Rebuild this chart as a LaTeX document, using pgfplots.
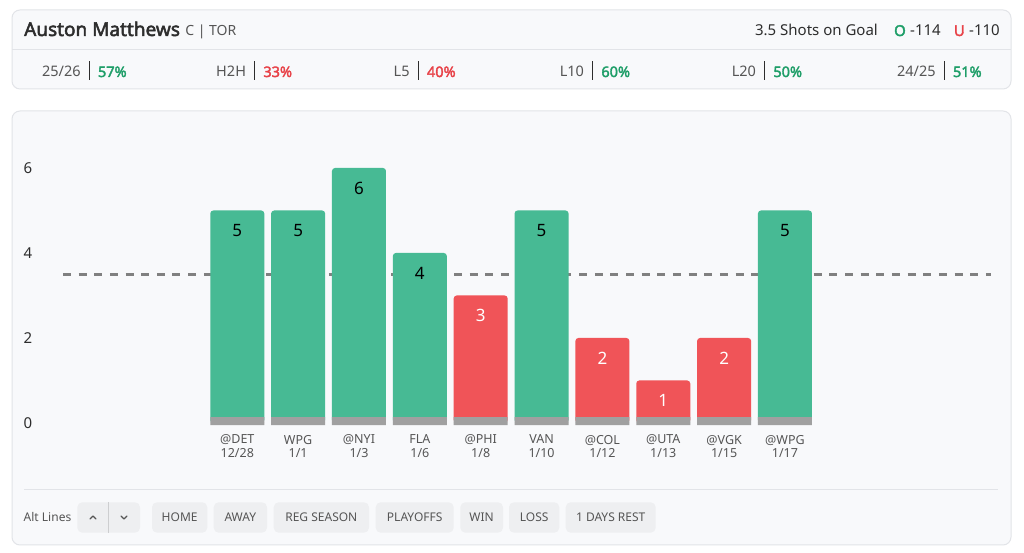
\documentclass[border=0pt]{standalone}
\usepackage{pgfplots}
\pgfplotsset{compat=1.18}
\usepackage{pgfplotstable}
\usepackage{fontspec}
\setmainfont{Noto Sans}[BoldFont={Noto Sans}, BoldFeatures={FakeBold=2.5}]

\definecolor{cardfill}{RGB}{248,249,251}
\definecolor{cardline}{RGB}{226,228,232}
\definecolor{bargreen}{RGB}{71,186,148}
\definecolor{barred}{RGB}{240,84,88}
\definecolor{basegray}{RGB}{160,160,160}
\definecolor{dashgray}{RGB}{128,128,128}
\definecolor{txtdark}{RGB}{45,45,45}
\definecolor{txtgray}{RGB}{85,85,85}
\definecolor{pctgreen}{RGB}{30,158,104}
\definecolor{pctred}{RGB}{232,66,72}
\definecolor{btnfill}{RGB}{238,239,241}
\definecolor{btnsep}{RGB}{205,206,208}
\newcommand{\fs}[1]{\fontsize{#1bp}{1.12\dimexpr#1bp\relax}\selectfont}

% shots on goal per game (over 3.5 = green, under = red)
\pgfplotstableread{
x y
0 5
1 5
2 6
3 4
5 5
9 5
}\overs
\pgfplotstableread{
x y
4 3
6 2
7 1
8 2
}\unders

\begin{document}
\begin{tikzpicture}
\begin{scope}[x=1bp,y=1bp]
\useasboundingbox[fill=white] (0,0) rectangle (1024,553);

% header card
\draw[cardline, fill=cardfill, rounded corners=8bp, line width=1bp] (12,464) rectangle (1011,543);
\draw[cardline, line width=1bp] (12,503) -- (1011,503);
\node[anchor=base west, inner sep=0, txtdark] (nm) at (24,517) {\fs{19}\bfseries Auston Matthews};
\node[anchor=base west, inner sep=0, txtgray] at ([xshift=5bp]nm.base east) {\fs{14}C | TOR};
\node[anchor=base east, inner sep=0, txtdark] at (878,517) {\fs{15}3.5 Shots on Goal};
\node[anchor=base east, inner sep=0, pctgreen] at (906,517) {\fs{15}\bfseries O};
\node[anchor=base west, inner sep=0, txtdark] at (910,517) {\fs{15}-114};
\node[anchor=base east, inner sep=0, pctred] at (965,517) {\fs{15}\bfseries U};
\node[anchor=base west, inner sep=0, txtdark] at (969,517) {\fs{15}-110};

\foreach \lab/\sx/\pc/\col in {{25/26}/89.3/57/pctgreen, H2H/254.7/33/pctred,
    L5/418.3/40/pctred, L10/592.7/60/pctgreen, L20/764.7/50/pctgreen,
    {24/25}/944.3/51/pctgreen}{
  \node[anchor=base east, inner sep=0, txtgray] at (\sx-8.5,476) {\fs{14.5}\lab};
  \draw[txtdark, line width=1.4bp] (\sx,473) -- (\sx,492);
  \node[anchor=base west, inner sep=0, \col] at (\sx+8.5,476) {\fs{14.5}\bfseries\pc\%};
}

% chart card
\draw[cardline, fill=cardfill, rounded corners=8bp, line width=1bp] (12,8) rectangle (1011,442);
\draw[cardline, line width=1bp] (24,63) -- (998,63);

% footer controls
\node[inner sep=0, txtgray] at (47.5,35.5) {\fs{12}Alt Lines};
\fill[btnfill, rounded corners=5bp] (77.3,20.3) rectangle (140,50.7);
\draw[btnsep, line width=1bp] (108.7,20.3) -- (108.7,50.7);
\draw[txtgray, line width=1.3bp, line cap=round, line join=round] (90,34) -- (93,37) -- (96,34);
\draw[txtgray, line width=1.3bp, line cap=round, line join=round] (121,37) -- (124,34) -- (127,37);
\foreach \a/\b/\t in {152/207.3/HOME, 213.7/267/AWAY, 273.7/369/REG SEASON,
    375.7/453.7/PLAYOFFS, 460.3/503/WIN, 509/559.3/LOSS, 565.7/655.7/1 DAYS REST}{
  \fill[btnfill, rounded corners=5bp] (\a,20.3) rectangle (\b,50.7);
  \node[inner sep=0, txtgray] at ({(\a+\b)/2},35.5) {\fs{12}\t};
}
\end{scope}

\begin{axis}[
  at={(63bp,121.5bp)}, anchor=south west,
  scale only axis, width=928bp, height=289bp,
  xmin=-2.864, xmax=12.386, ymin=-0.2, ymax=6.6,
  axis line style={draw=none}, tick style={draw=none},
  /pgf/number format/assume math mode=true,
  ytick={0,2,4,6}, yticklabels={0,2,4,6},
  yticklabel style={anchor=center, xshift=-35bp, font=\fs{15}, text=txtdark},
  xtick={0,...,9},
  xticklabels={{@DET\\12/28},{WPG\\1/1},{@NYI\\1/3},{FLA\\1/6},{@PHI\\1/8},
    {VAN\\1/10},{@COL\\1/12},{@UTA\\1/13},{@VGK\\1/15},{@WPG\\1/17}},
  xticklabel style={align=center, anchor=north, font=\fontsize{12.5bp}{13.6bp}\selectfont, text=txtgray},
  clip=false,
]
% line 3.5
\addplot[dashgray, line width=3bp, dash pattern=on 8bp off 7.64bp] coordinates {(-2.864,3.5) (12.381,3.5)};

\addplot[ybar, bar width=54bp, bar shift=0pt, fill=bargreen, draw=none, rounded corners=3bp,
  nodes near coords,
  every node near coord/.append style={anchor=center, yshift=-20bp, font=\fs{17}, text=black}]
  table {\overs};
\addplot[ybar, bar width=54bp, bar shift=0pt, fill=barred, draw=none, rounded corners=3bp,
  nodes near coords,
  every node near coord/.append style={anchor=center, yshift=-20bp, font=\fs{17}, text=white}]
  table {\unders};

% grey base strip under every bar
\addplot[ybar, bar width=54bp, bar shift=0pt, fill=basegray, draw=none]
  coordinates {(0,0.14) (1,0.14) (2,0.14) (3,0.14) (4,0.14) (5,0.14) (6,0.14) (7,0.14) (8,0.14) (9,0.14)};
\addplot[ybar, bar width=54bp, bar shift=0pt, fill=basegray, draw=none]
  coordinates {(0,-0.05) (1,-0.05) (2,-0.05) (3,-0.05) (4,-0.05) (5,-0.05) (6,-0.05) (7,-0.05) (8,-0.05) (9,-0.05)};
\end{axis}
\end{tikzpicture}
\end{document}
